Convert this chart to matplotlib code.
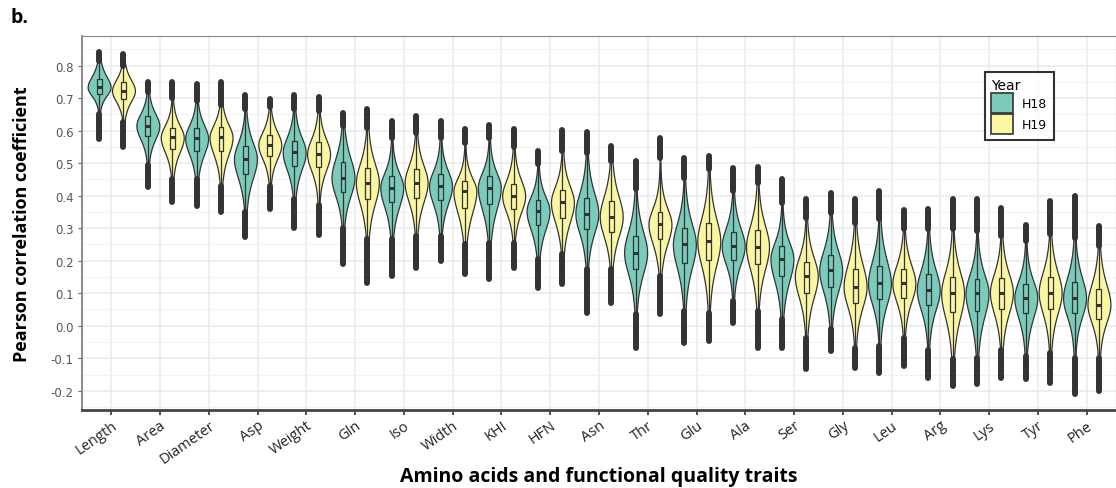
import matplotlib
matplotlib.use("Agg")
import matplotlib.pyplot as plt
from matplotlib.patches import Patch
import numpy as np

# traits in plotting order
traits = ["Length", "Area", "Diameter", "Asp", "Weight", "Gln", "Iso", "Width",
          "KHI", "HFN", "Asn", "Thr", "Glu", "Ala", "Ser", "Gly", "Leu", "Arg",
          "Lys", "Tyr", "Phe"]
years = ["H18", "H19"]

# summary stats (median, quartiles, whisker ends, extremes)
h18_med = [0.733, 0.615, 0.576, 0.513, 0.533, 0.455, 0.425, 0.430, 0.425, 0.353, 0.345,
           0.225, 0.250, 0.245, 0.206, 0.170, 0.130, 0.110, 0.100, 0.086, 0.085]
h18_q1 = [0.713, 0.583, 0.538, 0.467, 0.492, 0.411, 0.379, 0.387, 0.374, 0.309, 0.298,
          0.174, 0.194, 0.202, 0.153, 0.120, 0.081, 0.063, 0.045, 0.038, 0.040]
h18_q3 = [0.759, 0.644, 0.608, 0.552, 0.569, 0.502, 0.460, 0.466, 0.460, 0.387, 0.394,
          0.276, 0.300, 0.288, 0.245, 0.217, 0.184, 0.158, 0.145, 0.127, 0.134]
h18_lo = [0.650, 0.495, 0.450, 0.350, 0.390, 0.300, 0.267, 0.276, 0.255, 0.205, 0.174,
          0.035, 0.045, 0.076, 0.020, -0.009, -0.062, -0.073, -0.098, -0.093, -0.098]
h18_hi = [0.815, 0.720, 0.690, 0.667, 0.667, 0.614, 0.578, 0.578, 0.578, 0.497, 0.532,
          0.420, 0.455, 0.414, 0.378, 0.348, 0.327, 0.297, 0.290, 0.261, 0.271]
h18_min = [0.574, 0.426, 0.369, 0.273, 0.300, 0.190, 0.153, 0.199, 0.143, 0.117, 0.040,
           -0.068, -0.052, 0.009, -0.068, -0.078, -0.144, -0.160, -0.180, -0.165, -0.211]
h18_max = [0.841, 0.749, 0.744, 0.710, 0.708, 0.655, 0.630, 0.630, 0.617, 0.537, 0.596,
           0.507, 0.517, 0.486, 0.452, 0.409, 0.414, 0.360, 0.389, 0.309, 0.399]

h19_med = [0.723, 0.579, 0.579, 0.556, 0.528, 0.440, 0.440, 0.414, 0.399, 0.379, 0.335,
           0.312, 0.260, 0.243, 0.153, 0.120, 0.130, 0.100, 0.102, 0.102, 0.065]
h19_q1 = [0.697, 0.544, 0.538, 0.523, 0.489, 0.389, 0.394, 0.363, 0.360, 0.332, 0.288,
          0.266, 0.202, 0.189, 0.102, 0.071, 0.086, 0.042, 0.052, 0.052, 0.022]
h19_q3 = [0.749, 0.608, 0.610, 0.587, 0.564, 0.486, 0.481, 0.445, 0.437, 0.418, 0.384,
          0.350, 0.315, 0.294, 0.197, 0.174, 0.174, 0.151, 0.148, 0.151, 0.114]
h19_lo = [0.626, 0.451, 0.431, 0.430, 0.370, 0.267, 0.276, 0.250, 0.255, 0.220, 0.174,
          0.153, 0.040, 0.045, -0.037, -0.068, -0.037, -0.103, -0.073, -0.083, -0.098]
h19_hi = [0.800, 0.700, 0.680, 0.672, 0.660, 0.609, 0.594, 0.563, 0.548, 0.537, 0.507,
          0.515, 0.481, 0.440, 0.332, 0.317, 0.297, 0.297, 0.276, 0.281, 0.245]
h19_min = [0.549, 0.379, 0.349, 0.360, 0.280, 0.132, 0.178, 0.158, 0.178, 0.127, 0.071,
           0.035, -0.047, -0.068, -0.134, -0.129, -0.124, -0.186, -0.160, -0.175, -0.200]
h19_max = [0.836, 0.749, 0.749, 0.697, 0.703, 0.667, 0.645, 0.604, 0.604, 0.602, 0.553,
           0.578, 0.522, 0.489, 0.389, 0.389, 0.356, 0.389, 0.363, 0.384, 0.307]

yticks = [-0.2, -0.1, 0.0, 0.1, 0.2, 0.3, 0.4, 0.5, 0.6, 0.7, 0.8]
ytick_labels = ["-0.2", "-0.1", "0.0", "0.1", "0.2", "0.3", "0.4", "0.5", "0.6", "0.7", "0.8"]

colors = {"H18": "#7ACBBA", "H19": "#FBF6A2"}
dark = "#333333"

series = {
    "H18": (h18_med, h18_q1, h18_q3, h18_lo, h18_hi, h18_min, h18_max),
    "H19": (h19_med, h19_q1, h19_q3, h19_lo, h19_hi, h19_min, h19_max),
}

fig = plt.figure(figsize=(11.16, 4.89), dpi=100)
ax = fig.add_axes([0.0735, 0.1595, 0.9265, 0.765])

x = np.arange(1, len(traits) + 1)
offsets = {"H18": -0.25, "H19": 0.25}

for yr in years:
    med, q1, q3, lo, hi, mn, mx = series[yr]
    pos = x + offsets[yr]

    # violin shape: smooth two-sided bell (t-like tails) around the median
    vstats = []
    for i in range(len(traits)):
        c = np.linspace(mn[i], mx[i], 240)
        s_lo = (med[i] - q1[i]) / 0.6745
        s_hi = (q3[i] - med[i]) / 0.6745
        s = np.where(c < med[i], s_lo, s_hi)
        z = (c - med[i]) / s
        v = (1 + z ** 2 / 4.0) ** -2.5
        vstats.append(dict(coords=c, vals=v, mean=med[i], median=med[i],
                           min=mn[i], max=mx[i]))
    parts = ax.violin(vstats, positions=pos, widths=0.47, showmeans=False,
                      showextrema=False, showmedians=False)
    for b in parts["bodies"]:
        b.set_facecolor(colors[yr])
        b.set_edgecolor(dark)
        b.set_linewidth(0.9)
        b.set_alpha(1)
        b.set_zorder(2)

    # boxplots on top
    bstats = [dict(med=med[i], q1=q1[i], q3=q3[i], whislo=lo[i], whishi=hi[i])
              for i in range(len(traits))]
    ax.bxp(bstats, positions=pos, widths=0.1, patch_artist=True, showfliers=False,
           showcaps=False, manage_ticks=False,
           boxprops=dict(facecolor=colors[yr], edgecolor=dark, linewidth=0.9),
           whiskerprops=dict(color=dark, linewidth=0.9),
           medianprops=dict(color=dark, linewidth=2.2), zorder=3)

    # outliers: dense stacks of dots drawn as thick rounded columns
    ax.vlines(pos, hi, mx, colors=dark, linewidth=4.3, capstyle="round", zorder=4)
    ax.vlines(pos, mn, lo, colors=dark, linewidth=4.3, capstyle="round", zorder=4)

ax.set_xlim(0.4, 21.6)
ax.set_ylim(-0.259, 0.891)
ax.set_xticks(x)
ax.set_xticklabels(traits, rotation=35, ha="right", rotation_mode="anchor",
                   fontsize=10.5, color="#222222", family="Open Sans")
ax.set_yticks(yticks)
ax.set_yticklabels(ytick_labels, fontsize=8.5, color="#555555")
ax.set_yticks(np.arange(-0.25, 0.9, 0.1), minor=True)
ax.tick_params(axis="x", length=3.5, width=1.2, color=dark, pad=2)
ax.tick_params(axis="y", length=3, width=0.8, color="#666666", pad=3)
ax.tick_params(axis="y", which="minor", length=0)

ax.grid(True, which="major", color="#EBEBEB", linewidth=1.1, zorder=0)
ax.grid(True, which="minor", axis="y", color="#F2F2F2", linewidth=0.7, zorder=0)
ax.set_axisbelow(True)

ax.spines["top"].set_color("#888888")
ax.spines["right"].set_color("#888888")
ax.spines["left"].set_color("#777777")
ax.spines["left"].set_linewidth(1.2)
ax.spines["bottom"].set_color("#444444")
ax.spines["bottom"].set_linewidth(2)

ax.set_ylabel("Pearson correlation coefficient", fontsize=13, fontweight="bold",
              family="Open Sans", labelpad=14)
ax.set_xlabel("Amino acids and functional quality traits", fontsize=14,
              fontweight="bold", family="Open Sans", labelpad=0)

handles = [Patch(facecolor=colors[yr], edgecolor=dark, linewidth=1.2, label=yr)
           for yr in years]
leg = ax.legend(handles=handles, title="Year", loc="upper left",
                bbox_to_anchor=(0.867, 0.92), fontsize=9, title_fontsize=10,
                frameon=True, fancybox=False, handlelength=1.8, handleheight=2.1,
                labelspacing=0.05, borderpad=0.5, handletextpad=0.7)
leg.get_frame().set_edgecolor("black")
leg.get_frame().set_linewidth(1.5)
leg._legend_box.align = "left"

fig.text(0.009, 0.963, "b.", fontsize=14, fontweight="bold", family="Open Sans",
         va="center")

fig.savefig("out.png", dpi=100)
